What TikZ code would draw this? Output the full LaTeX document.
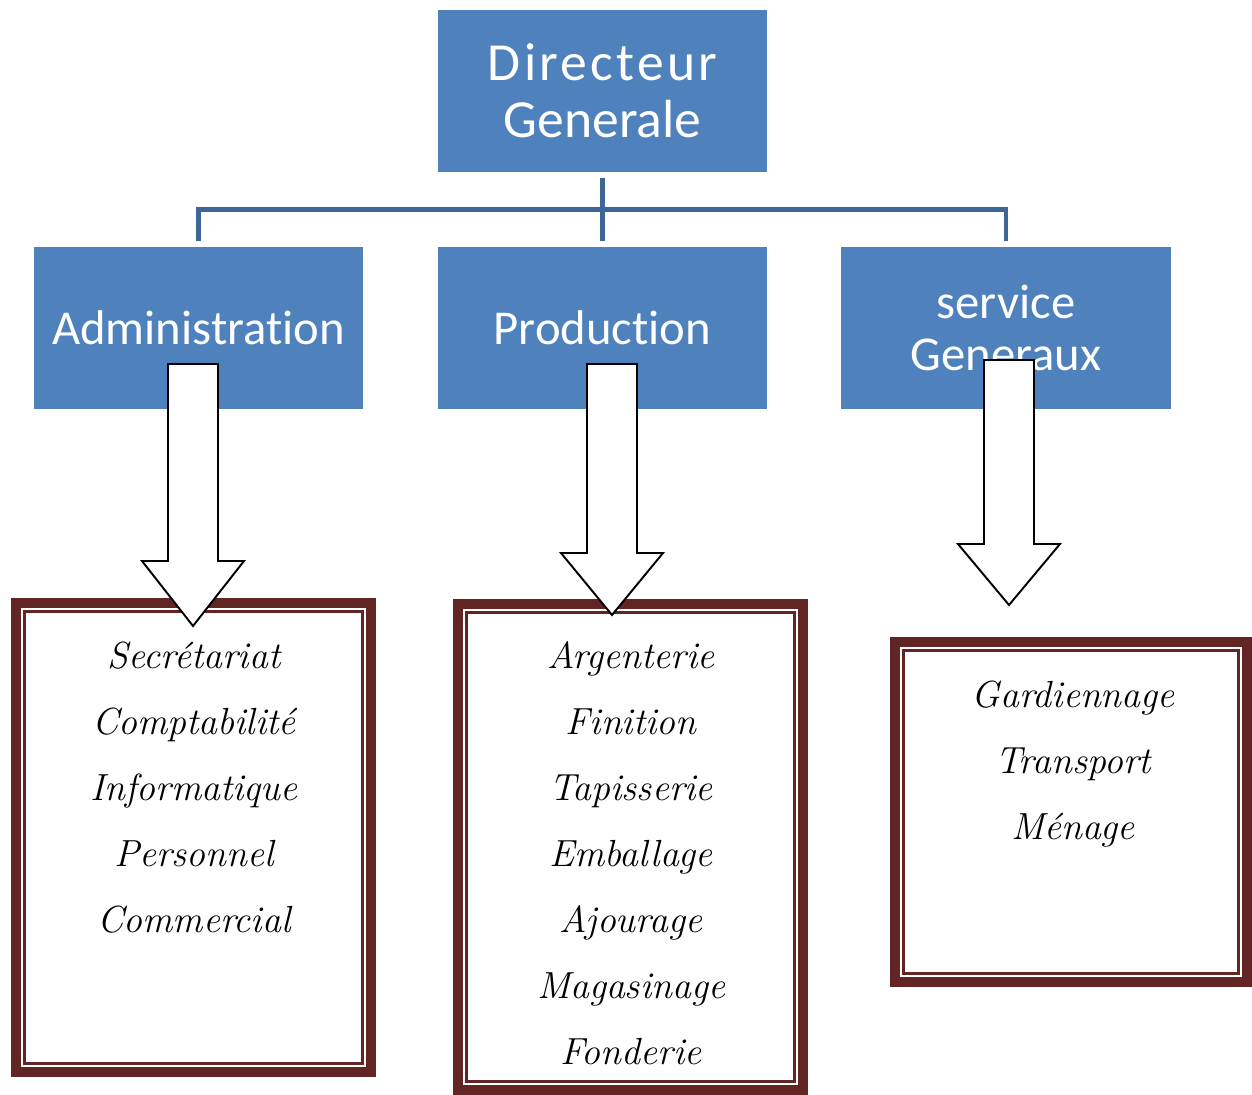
\documentclass[tikz,border=0pt]{standalone}
\usepackage{fontspec}
\newfontfamily\boxfont[Ligatures=NoCommon]{Carlito}
\usetikzlibrary{calc,positioning}
\definecolor{boxblue}{HTML}{4F81BD}
\definecolor{linkblue}{HTML}{3D6596}
\definecolor{framered}{HTML}{632523}

\begin{document}
\begin{tikzpicture}[x=0.02cm,y=-0.02cm]
	\tikzstyle{unit} = [fill=boxblue, text=white, minimum width=6.58cm, minimum height=3.24cm, align=center, font=\boxfont\fontsize{27.7}{32}\selectfont]
	\tikzstyle{outerframe} = [draw=framered, line width=5.7pt, outer sep=0pt]
	\tikzstyle{innerframe} = [draw=framered, line width=1.7pt]
	\tikzstyle{task} = [inner sep=0pt, text height=13pt, text depth=4pt, font=\itshape\fontsize{21.5}{25}\selectfont]
	\tikzstyle{bigarrow} = [draw=black, fill=white, line width=1.1pt, line join=miter]
	\tikzstyle{orgline} = [draw=linkblue, line width=2.6pt]

	\useasboundingbox (0,0) rectangle (1252,1095);

	% blue units
	\node[unit, font=\boxfont\fontsize{30.5}{32.3}\selectfont] (dg) at (602.5,91) {{\addfontfeatures{LetterSpace=6}Directeur}\\Generale};
	\node[unit] (adm) at (198.5,328) {Administration};
	\node[unit] (prod) at (602.5,328) {Production};
	\node[unit, minimum width=6.6cm, font=\boxfont\fontsize{27.7}{29.5}\selectfont] (svc) at (1006,328) {service\\Generaux};

	% links
	\draw[orgline] ($(dg.south)+(0,6)$) -- ($(prod.north)+(0,-6)$);
	\draw[orgline] ($(adm.north)+(0,-6)$) -- ($(adm.north)+(0,-37)$) -| ($(svc.north)+(0,-6)$);

	% frames
	\node[outerframe, minimum width=7.1cm, minimum height=9.38cm] (admframe) at (193.5,837.5) {};
	\draw[innerframe] ([shift={(8.5,8.5)}]admframe.north west) rectangle ([shift={(-8.5,-8.5)}]admframe.south east);
	\node[outerframe, minimum width=6.9cm, minimum height=9.72cm] (prodframe) at (630.5,847) {};
	\draw[innerframe] ([shift={(8.5,8.5)}]prodframe.north west) rectangle ([shift={(-8.5,-8.5)}]prodframe.south east);
	\node[outerframe, minimum width=7.04cm, minimum height=6.8cm] (svcframe) at (1071,812) {};
	\draw[innerframe] ([shift={(8.5,8.5)}]svcframe.north west) rectangle ([shift={(-8.5,-8.5)}]svcframe.south east);

	% arrows
	\coordinate (admtop) at (193,364);
	\coordinate (admneck) at (193,561);
	\coordinate (admtip) at (193,626);
	\coordinate (prodtop) at (612,364);
	\coordinate (prodneck) at (612,553);
	\coordinate (prodtip) at (612,615);
	\coordinate (svctop) at (1009,360);
	\coordinate (svcneck) at (1009,544);
	\coordinate (svctip) at (1009,605);

	\draw[bigarrow] ($(admtop)+(-25,0)$) -- ($(admtop)+(25,0)$) -- ($(admneck)+(25,0)$) -- ($(admneck)+(51,0)$) -- (admtip) -- ($(admneck)+(-51,0)$) -- ($(admneck)+(-25,0)$) -- cycle;
	\draw[bigarrow] ($(prodtop)+(-25,0)$) -- ($(prodtop)+(25,0)$) -- ($(prodneck)+(25,0)$) -- ($(prodneck)+(51,0)$) -- (prodtip) -- ($(prodneck)+(-51,0)$) -- ($(prodneck)+(-25,0)$) -- cycle;
	\draw[bigarrow] ($(svctop)+(-25,0)$) -- ($(svctop)+(25,0)$) -- ($(svcneck)+(25,0)$) -- ($(svcneck)+(51,0)$) -- (svctip) -- ($(svcneck)+(-51,0)$) -- ($(svcneck)+(-25,0)$) -- cycle;

	% tasks
	\node[task, anchor=base] (secr) at (194,668) {Secrétariat};
	\node[task, below=0.712cm of secr] (compt) {Comptabilité};
	\node[task, below=0.712cm of compt] (info) {Informatique};
	\node[task, below=0.712cm of info] (pers) {Personnel};
	\node[task, below=0.712cm of pers] (comm) {Commercial};

	\node[task, anchor=base] (argent) at (631,668) {Argenterie};
	\node[task, below=0.712cm of argent] (finit) {Finition};
	\node[task, below=0.712cm of finit] (tapis) {Tapisserie};
	\node[task, below=0.712cm of tapis] (emball) {Emballage};
	\node[task, below=0.712cm of emball] (ajour) {Ajourage};
	\node[task, below=0.712cm of ajour] (magas) {Magasinage};
	\node[task, below=0.712cm of magas] (fond) {Fonderie};

	\node[task, anchor=base] (gard) at (1073,707) {Gardiennage};
	\node[task, below=0.712cm of gard] (transp) {Transport};
	\node[task, below=0.712cm of transp] (menage) {Ménage};
\end{tikzpicture}
\end{document}
